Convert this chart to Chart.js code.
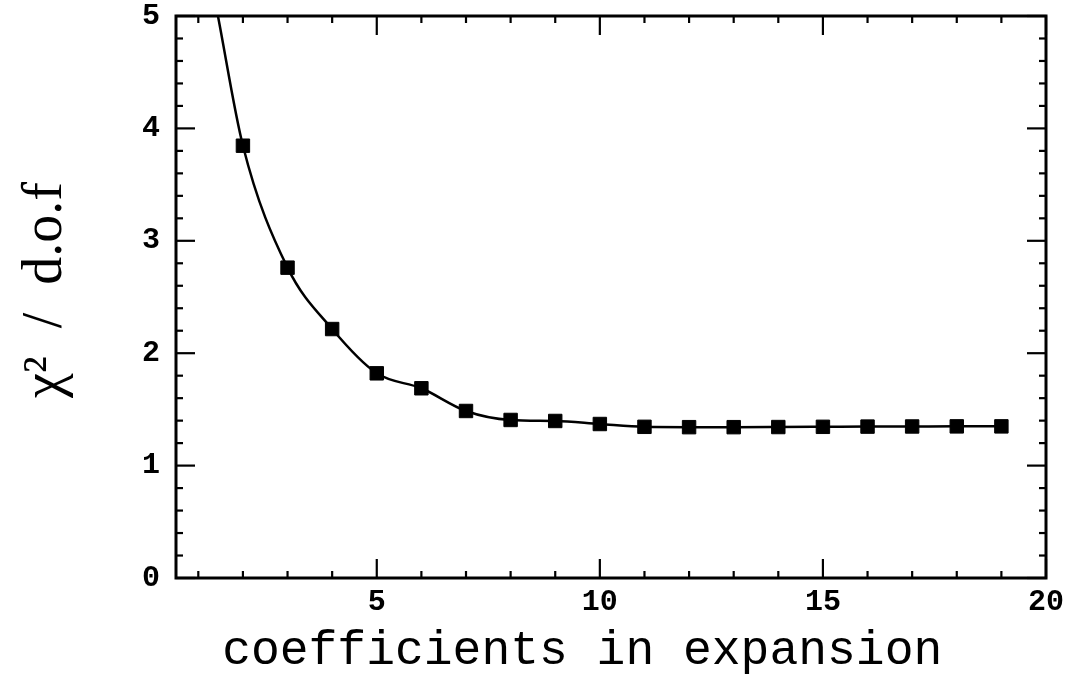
<!DOCTYPE html>
<html><head><meta charset="utf-8">
<script src="https://cdn.jsdelivr.net/npm/chart.js@4/dist/chart.umd.min.js"></script>
<style>html,body{margin:0;padding:0;background:#fff}#wrap{width:1067px;height:677px;position:relative}</style>
</head><body><div id="wrap"><canvas id="c"></canvas></div>
<script>
// ---- data ----
const coefficients = [2, 3, 4, 5, 6, 7, 8, 9, 10, 11, 12, 13, 14, 15, 16, 17, 18, 19];
const chiSquaredPerDof = [3.846, 2.761, 2.215, 1.821, 1.688, 1.486, 1.406, 1.397, 1.370, 1.345, 1.342, 1.342, 1.343, 1.345, 1.347, 1.348, 1.349, 1.349];
// fitted curve: enters the frame at the top edge, then passes through the points
const curveX = [1.44, 2, 3, 4, 5, 6, 7, 8, 9, 10, 11, 12, 13, 14, 15, 16, 17, 18, 19];
const curveY = [5.0, 3.846, 2.761, 2.215, 1.821, 1.688, 1.486, 1.406, 1.397, 1.370, 1.345, 1.342, 1.342, 1.343, 1.345, 1.347, 1.348, 1.349, 1.349];
// tick labels and tick marks
const xTickLabels = [5, 10, 15, 20];
const yTickLabels = [0, 1, 2, 3, 4, 5];
const xMinorTicks = [1, 2, 3, 4, 6, 7, 8, 9, 11, 12, 13, 14, 16, 17, 18, 19];
const yMinorTicks = [0.2, 0.4, 0.6, 0.8, 1.2, 1.4, 1.6, 1.8, 2.2, 2.4, 2.6, 2.8, 3.2, 3.4, 3.6, 3.8, 4.2, 4.4, 4.6, 4.8];
const xTitle = 'coefficients in expansion  ';
const yTitle = ' χ²  /  d.o.f';

const framePlugin = {
  id: 'frameTicks',
  afterDraw(chart) {
    const ctx = chart.ctx;
    const {left, right, top, bottom} = chart.chartArea;
    const xs = chart.scales.x, ys = chart.scales.y;
    ctx.save();
    ctx.strokeStyle = '#000';
    ctx.lineWidth = 2.2;
    const tick = (x1, y1, x2, y2) => { ctx.beginPath(); ctx.moveTo(x1, y1); ctx.lineTo(x2, y2); ctx.stroke(); };
    const MAJ = 19, MIN = 7;
    xTickLabels.forEach(v => { const p = xs.getPixelForValue(v); tick(p, bottom, p, bottom - MAJ); tick(p, top, p, top + MAJ); });
    xMinorTicks.forEach(v => { const p = xs.getPixelForValue(v); tick(p, bottom, p, bottom - MIN); tick(p, top, p, top + MIN); });
    yTickLabels.forEach(v => { const p = ys.getPixelForValue(v); tick(left, p, left + MAJ, p); tick(right, p, right - MAJ, p); });
    yMinorTicks.forEach(v => { const p = ys.getPixelForValue(v); tick(left, p, left + MIN, p); tick(right, p, right - MIN, p); });
    ctx.lineWidth = 3;
    ctx.strokeRect(left, top, right - left, bottom - top);
    ctx.restore();
  }
};

const tickFont = {family: "'Liberation Mono', monospace", weight: 'bold', size: 30, lineHeight: 1};

new Chart(document.getElementById('c'), {
  type: 'scatter',
  data: {
    datasets: [
      {
        data: coefficients.map((x, i) => ({x, y: chiSquaredPerDof[i]})),
        pointStyle: 'rect', pointRadius: 9.5, pointHoverRadius: 9.5,
        backgroundColor: '#000', borderColor: '#000', borderWidth: 1,
        showLine: false
      },
      {
        data: curveX.map((x, i) => ({x, y: curveY[i]})),
        showLine: true, pointRadius: 0, borderColor: '#000', borderWidth: 2.5,
        cubicInterpolationMode: 'monotone', fill: false
      }
    ]
  },
  options: {
    responsive: true, maintainAspectRatio: false, animation: false, devicePixelRatio: 1,
    layout: {padding: {top: 16, right: 21, left: 0, bottom: 0}},
    plugins: {legend: {display: false}, tooltip: {enabled: false}},
    scales: {
      x: {
        type: 'linear', min: 0.5, max: 20,
        grid: {display: false, drawTicks: false}, border: {display: false},
        afterBuildTicks: s => { s.ticks = xTickLabels.map(v => ({value: v})); },
        afterFit: s => { s.height = 99; s.paddingLeft = 0; s.paddingRight = 0; },
        ticks: {font: tickFont, color: '#000', padding: 9, maxRotation: 0, autoSkip: false},
        title: {display: true, text: xTitle, color: '#000',
          font: {family: "'Liberation Mono', monospace", size: 48, lineHeight: 1},
          padding: {top: 0, bottom: 2}}
      },
      y: {
        type: 'linear', min: 0, max: 5,
        grid: {display: false, drawTicks: false}, border: {display: false},
        afterBuildTicks: s => { s.ticks = yTickLabels.map(v => ({value: v})); },
        afterFit: s => { s.width = 176; s.paddingTop = 0; s.paddingBottom = 0; },
        ticks: {font: tickFont, color: '#000', padding: 16},
        title: {display: true, text: yTitle, color: '#000',
          font: {family: "'Liberation Serif', serif", size: 56, lineHeight: 1},
          padding: {top: 18, bottom: 0}}
      }
    }
  },
  plugins: [framePlugin]
});
</script>
</body></html>
